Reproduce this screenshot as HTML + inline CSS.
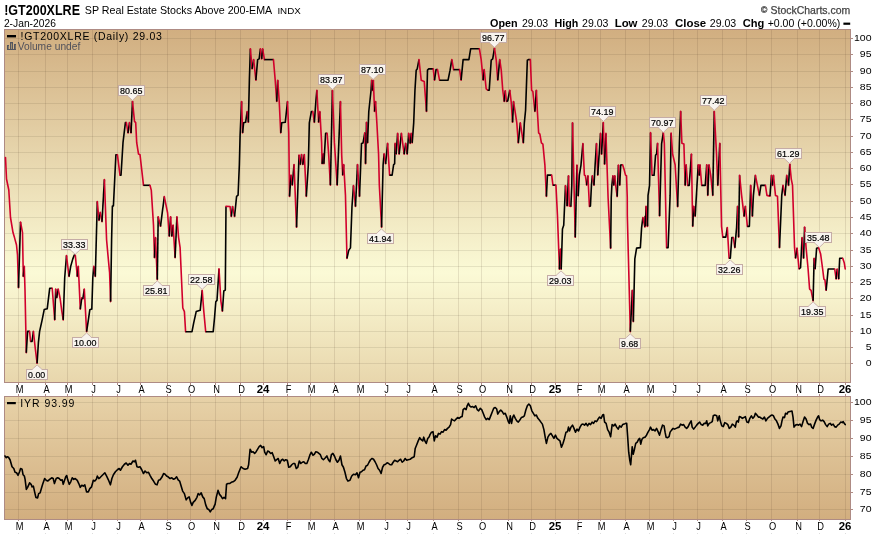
<!DOCTYPE html>
<html><head><meta charset="utf-8"><title>!GT200XLRE</title>
<style>html,body{margin:0;padding:0;background:#fff}body{width:877px;height:539px;overflow:hidden;font-family:"Liberation Sans",sans-serif}svg{display:block;will-change:transform;transform:translateZ(0)}text{font-family:"Liberation Sans",sans-serif}</style></head><body>
<svg width="877" height="539" viewBox="0 0 877 539">
<defs>
<linearGradient id="g1" x1="0" y1="0" x2="0" y2="1"><stop offset="0" stop-color="#d1ae80"/><stop offset="0.689" stop-color="#fbfad6"/><stop offset="1" stop-color="#e8d6ac"/></linearGradient>
<linearGradient id="g2" x1="0" y1="0" x2="0" y2="1"><stop offset="0" stop-color="#e7d2a8"/><stop offset="1" stop-color="#d2ae7f"/></linearGradient>
</defs>
<rect x="0" y="0" width="877" height="539" fill="#fff"/>
<rect x="4" y="29" width="847" height="354" fill="url(#g1)"/>
<rect x="4" y="396" width="847" height="124" fill="url(#g2)"/>
<path d="M5 363.5H850M5 347.5H850M5 331.5H850M5 315.5H850M5 298.5H850M5 282.5H850M5 266.5H850M5 250.5H850M5 233.5H850M5 217.5H850M5 201.5H850M5 184.5H850M5 168.5H850M5 152.5H850M5 136.5H850M5 119.5H850M5 103.5H850M5 87.5H850M5 71.5H850M5 54.5H850M5 38.5H850M5 509.5H850M5 492.5H850M5 474.5H850M5 456.5H850M5 438.5H850M5 420.5H850M5 402.5H850" stroke="#3a3020" stroke-opacity="0.105" stroke-width="1" fill="none" shape-rendering="crispEdges"/>
<path d="M18.5 30V382M18.5 397V519M45.5 30V382M45.5 397V519M67.5 30V382M67.5 397V519M92.5 30V382M92.5 397V519M117.5 30V382M117.5 397V519M140.5 30V382M140.5 397V519M167.5 30V382M167.5 397V519M190.5 30V382M190.5 397V519M215.5 30V382M215.5 397V519M240.5 30V382M240.5 397V519M263.5 30V382M263.5 397V519M287.5 30V382M287.5 397V519M310.5 30V382M310.5 397V519M334.5 30V382M334.5 397V519M359.5 30V382M359.5 397V519M385.5 30V382M385.5 397V519M407.5 30V382M407.5 397V519M433.5 30V382M433.5 397V519M458.5 30V382M458.5 397V519M481.5 30V382M481.5 397V519M508.5 30V382M508.5 397V519M531.5 30V382M531.5 397V519M555.5 30V382M555.5 397V519M578.5 30V382M578.5 397V519M600.5 30V382M600.5 397V519M625.5 30V382M625.5 397V519M649.5 30V382M649.5 397V519M673.5 30V382M673.5 397V519M697.5 30V382M697.5 397V519M722.5 30V382M722.5 397V519M746.5 30V382M746.5 397V519M771.5 30V382M771.5 397V519M797.5 30V382M797.5 397V519M819.5 30V382M819.5 397V519M845.5 30V382M845.5 397V519" stroke="#4a3024" stroke-opacity="0.12" stroke-width="1" fill="none" shape-rendering="crispEdges"/>
<path d="M18.5 383V385M18.5 394V396M18.5 520V521M45.5 383V385M45.5 394V396M45.5 520V521M67.5 383V385M67.5 394V396M67.5 520V521M92.5 383V385M92.5 394V396M92.5 520V521M117.5 383V385M117.5 394V396M117.5 520V521M140.5 383V385M140.5 394V396M140.5 520V521M167.5 383V385M167.5 394V396M167.5 520V521M190.5 383V385M190.5 394V396M190.5 520V521M215.5 383V385M215.5 394V396M215.5 520V521M240.5 383V385M240.5 394V396M240.5 520V521M263.5 383V385M263.5 394V396M263.5 520V521M287.5 383V385M287.5 394V396M287.5 520V521M310.5 383V385M310.5 394V396M310.5 520V521M334.5 383V385M334.5 394V396M334.5 520V521M359.5 383V385M359.5 394V396M359.5 520V521M385.5 383V385M385.5 394V396M385.5 520V521M407.5 383V385M407.5 394V396M407.5 520V521M433.5 383V385M433.5 394V396M433.5 520V521M458.5 383V385M458.5 394V396M458.5 520V521M481.5 383V385M481.5 394V396M481.5 520V521M508.5 383V385M508.5 394V396M508.5 520V521M531.5 383V385M531.5 394V396M531.5 520V521M555.5 383V385M555.5 394V396M555.5 520V521M578.5 383V385M578.5 394V396M578.5 520V521M600.5 383V385M600.5 394V396M600.5 520V521M625.5 383V385M625.5 394V396M625.5 520V521M649.5 383V385M649.5 394V396M649.5 520V521M673.5 383V385M673.5 394V396M673.5 520V521M697.5 383V385M697.5 394V396M697.5 520V521M722.5 383V385M722.5 394V396M722.5 520V521M746.5 383V385M746.5 394V396M746.5 520V521M771.5 383V385M771.5 394V396M771.5 520V521M797.5 383V385M797.5 394V396M797.5 520V521M819.5 383V385M819.5 394V396M819.5 520V521M845.5 383V385M845.5 394V396M845.5 520V521M851 363.5H853M851 347.5H853M851 331.5H853M851 315.5H853M851 298.5H853M851 282.5H853M851 266.5H853M851 250.5H853M851 233.5H853M851 217.5H853M851 201.5H853M851 184.5H853M851 168.5H853M851 152.5H853M851 136.5H853M851 119.5H853M851 103.5H853M851 87.5H853M851 71.5H853M851 54.5H853M851 38.5H853M851 509.5H853M851 492.5H853M851 474.5H853M851 456.5H853M851 438.5H853M851 420.5H853M851 402.5H853" stroke="#ae8b84" stroke-width="1" fill="none" shape-rendering="crispEdges"/>
<rect x="4.5" y="29.5" width="846" height="353" fill="none" stroke="#ae8b84" stroke-width="1" shape-rendering="crispEdges"/>
<rect x="4.5" y="396.5" width="846" height="123" fill="none" stroke="#ae8b84" stroke-width="1" shape-rendering="crispEdges"/>
<g fill="none" stroke-width="1.6" stroke-linejoin="round">
<path d="M5.5 157.5L6.5 179L8.8 190L10.5 217.5L13 232.6L14.5 237.6L16.5 245L17.5 255L18.5 287.8" stroke="#d1002c" stroke-linecap="round"/>
<path d="M18.5 287.8L20.5 222" stroke="#000" stroke-linecap="butt"/>
<path d="M20.5 222L22.5 232.6L23.3 276.5" stroke="#d1002c" stroke-linecap="round"/>
<path d="M23.3 276.5L24.3 266.4" stroke="#000" stroke-linecap="butt"/>
<path d="M24.3 266.4L25 290L26.3 352.7" stroke="#d1002c" stroke-linecap="round"/>
<path d="M26.3 352.7L27.6 331.4L29.6 331.4" stroke="#000" stroke-linecap="butt"/>
<path d="M29.6 331.4L30.6 341.4" stroke="#d1002c" stroke-linecap="round"/>
<path d="M30.6 341.4L32.1 341.4L33.4 331.4" stroke="#000" stroke-linecap="butt"/>
<path d="M33.4 331.4L35.1 347L37.1 363.3" stroke="#d1002c" stroke-linecap="round"/>
<path d="M37.1 363.3L38.4 342.7L39.6 331.4L42.1 320.1L44.2 309.6L47.2 308.8L49.7 288.3L52.2 288.3" stroke="#000" stroke-linecap="butt"/>
<path d="M52.2 288.3L54.7 319.9" stroke="#d1002c" stroke-linecap="round"/>
<path d="M54.7 319.9L55.7 289" stroke="#000" stroke-linecap="butt"/>
<path d="M55.7 289L56.7 297.8" stroke="#d1002c" stroke-linecap="round"/>
<path d="M56.7 297.8L58.2 289" stroke="#000" stroke-linecap="butt"/>
<path d="M58.2 289L60.2 299L61.7 310.3L63.2 319.9" stroke="#d1002c" stroke-linecap="round"/>
<path d="M63.2 319.9L64.7 277.7L66.5 255.6" stroke="#000" stroke-linecap="butt"/>
<path d="M66.5 255.6L69 276.5" stroke="#d1002c" stroke-linecap="round"/>
<path d="M69 276.5L70.7 266.4L72.8 258.9L74.3 255.1L75.3 255.1" stroke="#000" stroke-linecap="butt"/>
<path d="M75.3 255.1L77.3 276.5" stroke="#d1002c" stroke-linecap="round"/>
<path d="M77.3 276.5L78.3 266.4" stroke="#000" stroke-linecap="butt"/>
<path d="M78.3 266.4L80.3 309.1" stroke="#d1002c" stroke-linecap="round"/>
<path d="M80.3 309.1L81.8 297.8" stroke="#000" stroke-linecap="butt"/>
<path d="M81.8 297.8L82.8 299" stroke="#d1002c" stroke-linecap="round"/>
<path d="M82.8 299L84.3 289" stroke="#000" stroke-linecap="butt"/>
<path d="M84.3 289L86.6 331.7" stroke="#d1002c" stroke-linecap="round"/>
<path d="M86.6 331.7L88.3 320.4L89.8 309.8L91.8 309.1L92.8 277.7L93.8 266.4" stroke="#000" stroke-linecap="butt"/>
<path d="M93.8 266.4L95.3 276.5" stroke="#d1002c" stroke-linecap="round"/>
<path d="M95.3 276.5L97.3 201.6" stroke="#000" stroke-linecap="butt"/>
<path d="M97.3 201.6L99 220.4" stroke="#d1002c" stroke-linecap="round"/>
<path d="M99 220.4L100.3 212.4" stroke="#000" stroke-linecap="butt"/>
<path d="M100.3 212.4L102 221.7" stroke="#d1002c" stroke-linecap="round"/>
<path d="M102 221.7L104.4 179.6" stroke="#000" stroke-linecap="butt"/>
<path d="M104.4 179.6L106.6 240L108.4 260L109.6 272.7L110.6 301.6" stroke="#d1002c" stroke-linecap="round"/>
<path d="M110.6 301.6L111.6 240L112.4 206L113.4 206L115.9 154.7L117.4 154.7" stroke="#000" stroke-linecap="butt"/>
<path d="M117.4 154.7L120 175.3" stroke="#d1002c" stroke-linecap="round"/>
<path d="M120 175.3L121 175.3L123 142.7L125.4 122.6L126.4 122.6" stroke="#000" stroke-linecap="butt"/>
<path d="M126.4 122.6L128 133" stroke="#d1002c" stroke-linecap="round"/>
<path d="M128 133L129.5 122.6" stroke="#000" stroke-linecap="butt"/>
<path d="M129.5 122.6L131 133" stroke="#d1002c" stroke-linecap="round"/>
<path d="M131 133L132.5 101.3" stroke="#000" stroke-linecap="butt"/>
<path d="M132.5 101.3L134.5 121.4L135.7 122.6L136.7 142.7L138.5 154L140 154.7L143.5 185.3" stroke="#d1002c" stroke-linecap="round"/>
<path d="M143.5 185.3L150 185.3" stroke="#000" stroke-linecap="butt"/>
<path d="M150 185.3L151.3 190.4L153.5 225L154.5 257.7" stroke="#d1002c" stroke-linecap="round"/>
<path d="M154.5 257.7L155.5 237.6" stroke="#000" stroke-linecap="butt"/>
<path d="M155.5 237.6L157.3 279.6" stroke="#d1002c" stroke-linecap="round"/>
<path d="M157.3 279.6L158.2 216.7" stroke="#000" stroke-linecap="butt"/>
<path d="M158.2 216.7L160.5 226.3" stroke="#d1002c" stroke-linecap="round"/>
<path d="M160.5 226.3L164.3 196.6" stroke="#000" stroke-linecap="butt"/>
<path d="M164.3 196.6L167.6 213L169.3 236.3" stroke="#d1002c" stroke-linecap="round"/>
<path d="M169.3 236.3L170.6 216.7" stroke="#000" stroke-linecap="butt"/>
<path d="M170.6 216.7L171.8 236.3" stroke="#d1002c" stroke-linecap="round"/>
<path d="M171.8 236.3L173.1 225" stroke="#000" stroke-linecap="butt"/>
<path d="M173.1 225L175.1 257.7" stroke="#d1002c" stroke-linecap="round"/>
<path d="M175.1 257.7L176.9 216.7" stroke="#000" stroke-linecap="butt"/>
<path d="M176.9 216.7L178.6 237.6L180.1 247.6L182.8 308L184.4 311.6L185.6 331.7" stroke="#d1002c" stroke-linecap="round"/>
<path d="M185.6 331.7L192 331.7L193.7 322.9L196.2 311.6L200.2 310.3L202.2 290.3" stroke="#000" stroke-linecap="butt"/>
<path d="M202.2 290.3L203.7 310.3L205.7 331.7" stroke="#d1002c" stroke-linecap="round"/>
<path d="M205.7 331.7L213.2 331.7L214.5 318L215.8 301.7L217 300.4L219 268.9" stroke="#000" stroke-linecap="butt"/>
<path d="M219 268.9L220.9 301.1L222.4 311.2" stroke="#d1002c" stroke-linecap="round"/>
<path d="M222.4 311.2L223.8 291L225.3 290.1L226 206.4" stroke="#000" stroke-linecap="butt"/>
<path d="M226 206.4L230.05 206.45L231.31 216.48" stroke="#d1002c" stroke-linecap="round"/>
<path d="M231.31 216.48L232.56 206.45" stroke="#000" stroke-linecap="butt"/>
<path d="M232.56 206.45L234.57 216.48" stroke="#d1002c" stroke-linecap="round"/>
<path d="M234.57 216.48L236.58 196.41L238.08 195.16L239.34 165.05L240.09 135.37L241.59 101.5" stroke="#000" stroke-linecap="butt"/>
<path d="M241.59 101.5L242.6 132.86" stroke="#d1002c" stroke-linecap="round"/>
<path d="M242.6 132.86L243.6 122.82L245.61 122.32L247.11 111.54" stroke="#000" stroke-linecap="butt"/>
<path d="M247.11 111.54L248.37 122.32" stroke="#d1002c" stroke-linecap="round"/>
<path d="M248.37 122.32L249.37 80.18L250.37 48.82" stroke="#000" stroke-linecap="butt"/>
<path d="M250.37 48.82L252.13 68.89" stroke="#d1002c" stroke-linecap="round"/>
<path d="M252.13 68.89L253.64 59.6" stroke="#000" stroke-linecap="butt"/>
<path d="M253.64 59.6L255.89 80.18" stroke="#d1002c" stroke-linecap="round"/>
<path d="M255.89 80.18L257.65 59.6L259.15 58.85L260.41 48.82" stroke="#000" stroke-linecap="butt"/>
<path d="M260.41 48.82L261.66 58.85" stroke="#d1002c" stroke-linecap="round"/>
<path d="M261.66 58.85L262.67 48.82" stroke="#000" stroke-linecap="butt"/>
<path d="M262.67 48.82L264.42 59.6" stroke="#d1002c" stroke-linecap="round"/>
<path d="M264.42 59.6L273.45 59.6" stroke="#000" stroke-linecap="butt"/>
<path d="M273.45 59.6L275.21 80.18L276.72 101.5" stroke="#d1002c" stroke-linecap="round"/>
<path d="M276.72 101.5L277.72 80.18" stroke="#000" stroke-linecap="butt"/>
<path d="M277.72 80.18L279.22 101.5L280.73 132.86" stroke="#d1002c" stroke-linecap="round"/>
<path d="M280.73 132.86L281.73 122.82L285.25 122.32L287.5 101.5" stroke="#000" stroke-linecap="butt"/>
<path d="M287.5 101.5L288.76 132.86L289.51 196.41" stroke="#d1002c" stroke-linecap="round"/>
<path d="M289.51 196.41L291.02 175.09" stroke="#000" stroke-linecap="butt"/>
<path d="M291.02 175.09L292.27 185.12" stroke="#d1002c" stroke-linecap="round"/>
<path d="M292.27 185.12L294.03 164.55" stroke="#000" stroke-linecap="butt"/>
<path d="M294.03 164.55L296.54 227.27" stroke="#d1002c" stroke-linecap="round"/>
<path d="M296.54 227.27L299.04 155.02" stroke="#000" stroke-linecap="butt"/>
<path d="M299.04 155.02L300.3 164.55" stroke="#d1002c" stroke-linecap="round"/>
<path d="M300.3 164.55L301.55 154.52" stroke="#000" stroke-linecap="butt"/>
<path d="M301.55 154.52L302.81 164.55" stroke="#d1002c" stroke-linecap="round"/>
<path d="M302.81 164.55L304.31 154.52" stroke="#000" stroke-linecap="butt"/>
<path d="M304.31 154.52L306.32 196.41" stroke="#d1002c" stroke-linecap="round"/>
<path d="M306.32 196.41L308.33 165.05L309.33 122.82L311.34 111.54L312.84 111.54" stroke="#000" stroke-linecap="butt"/>
<path d="M312.84 111.54L314.35 122.32" stroke="#d1002c" stroke-linecap="round"/>
<path d="M314.35 122.32L315.85 101.5L316.86 90.21" stroke="#000" stroke-linecap="butt"/>
<path d="M316.86 90.21L318.61 122.32" stroke="#d1002c" stroke-linecap="round"/>
<path d="M318.61 122.32L319.87 111.54" stroke="#000" stroke-linecap="butt"/>
<path d="M319.87 111.54L321.62 142.9L322.12 163.8" stroke="#d1002c" stroke-linecap="round"/>
<path d="M322.12 163.8L323.13 153.76" stroke="#000" stroke-linecap="butt"/>
<path d="M323.13 153.76L323.88 163.8" stroke="#d1002c" stroke-linecap="round"/>
<path d="M323.88 163.8L325.64 133.36L327.14 133.36" stroke="#000" stroke-linecap="butt"/>
<path d="M327.14 133.36L328.65 154.18L330.4 185.12" stroke="#d1002c" stroke-linecap="round"/>
<path d="M330.4 185.12L332.41 90.21" stroke="#000" stroke-linecap="butt"/>
<path d="M332.41 90.21L334.42 142.9L337.18 185.12" stroke="#d1002c" stroke-linecap="round"/>
<path d="M337.18 185.12L340.44 101.5" stroke="#000" stroke-linecap="butt"/>
<path d="M340.44 101.5L341.69 155.02L342.7 175.09" stroke="#d1002c" stroke-linecap="round"/>
<path d="M342.7 175.09L343.7 164.55" stroke="#000" stroke-linecap="butt"/>
<path d="M343.7 164.55L345.46 195.16L346.96 258.38" stroke="#d1002c" stroke-linecap="round"/>
<path d="M346.96 258.38L348.72 250.35L350.47 247.84L351.98 206.45L353.48 185.62" stroke="#000" stroke-linecap="butt"/>
<path d="M353.48 185.62L355.49 206.45" stroke="#d1002c" stroke-linecap="round"/>
<path d="M355.49 206.45L357.5 164.55" stroke="#000" stroke-linecap="butt"/>
<path d="M357.5 164.55L359.51 196.41" stroke="#d1002c" stroke-linecap="round"/>
<path d="M359.51 196.41L361.51 143.4L363.02 142.9L364.77 132.86" stroke="#000" stroke-linecap="butt"/>
<path d="M364.77 132.86L365.53 163.72" stroke="#d1002c" stroke-linecap="round"/>
<path d="M365.53 163.72L366.53 122.32" stroke="#000" stroke-linecap="butt"/>
<path d="M366.53 122.32L367.53 142.9" stroke="#d1002c" stroke-linecap="round"/>
<path d="M367.53 142.9L368.79 111.54L371.05 90.21L371.67 80.18" stroke="#000" stroke-linecap="butt"/>
<path d="M371.67 80.18L372.55 90.46" stroke="#d1002c" stroke-linecap="round"/>
<path d="M372.55 90.46L373.35 80.18" stroke="#000" stroke-linecap="butt"/>
<path d="M373.35 80.18L374.56 111.54" stroke="#d1002c" stroke-linecap="round"/>
<path d="M374.56 111.54L375.56 101.5" stroke="#000" stroke-linecap="butt"/>
<path d="M375.56 101.5L376.82 122.32L378.57 154.18L379.33 185.12L381.58 227.27" stroke="#d1002c" stroke-linecap="round"/>
<path d="M381.58 227.27L383.09 165.05L384.09 153.76" stroke="#000" stroke-linecap="butt"/>
<path d="M384.09 153.76L385.6 163.8" stroke="#d1002c" stroke-linecap="round"/>
<path d="M385.6 163.8L387.6 143.4" stroke="#000" stroke-linecap="butt"/>
<path d="M387.6 143.4L389.61 175.09" stroke="#d1002c" stroke-linecap="round"/>
<path d="M389.61 175.09L392.12 175.09L393.63 164.55L394.63 163.8L395.13 143.4" stroke="#000" stroke-linecap="butt"/>
<path d="M395.13 143.4L396.13 154.18" stroke="#d1002c" stroke-linecap="round"/>
<path d="M396.13 154.18L397.64 133.36" stroke="#000" stroke-linecap="butt"/>
<path d="M397.64 133.36L399.14 154.18" stroke="#d1002c" stroke-linecap="round"/>
<path d="M399.14 154.18L401.4 133.36" stroke="#000" stroke-linecap="butt"/>
<path d="M401.4 133.36L404.16 154.18" stroke="#d1002c" stroke-linecap="round"/>
<path d="M404.16 154.18L405.67 143.4" stroke="#000" stroke-linecap="butt"/>
<path d="M405.67 143.4L407.17 154.18" stroke="#d1002c" stroke-linecap="round"/>
<path d="M407.17 154.18L408.68 133.36" stroke="#000" stroke-linecap="butt"/>
<path d="M408.68 133.36L410.18 143.4" stroke="#d1002c" stroke-linecap="round"/>
<path d="M410.18 143.4L411.19 133.36" stroke="#000" stroke-linecap="butt"/>
<path d="M411.19 133.36L412.19 142.9" stroke="#d1002c" stroke-linecap="round"/>
<path d="M412.19 142.9L413.7 122.82L414.95 90.21L416.2 70.14L417.21 68.89L418.96 59.6" stroke="#000" stroke-linecap="butt"/>
<path d="M418.96 59.6L421.22 80.18L424.23 81.43L426.49 111.54" stroke="#d1002c" stroke-linecap="round"/>
<path d="M426.49 111.54L427.49 70.14L428.75 68.89L433.26 68.89" stroke="#000" stroke-linecap="butt"/>
<path d="M433.26 68.89L434.52 80.18" stroke="#d1002c" stroke-linecap="round"/>
<path d="M434.52 80.18L436.02 69.64L437.53 69.64" stroke="#000" stroke-linecap="butt"/>
<path d="M437.53 69.64L439.53 80.18" stroke="#d1002c" stroke-linecap="round"/>
<path d="M439.53 80.18L448.06 80.18L450.07 70.14L451.83 59.6" stroke="#000" stroke-linecap="butt"/>
<path d="M451.83 59.6L453.58 69.64" stroke="#d1002c" stroke-linecap="round"/>
<path d="M453.58 69.64L459.6 69.64" stroke="#000" stroke-linecap="butt"/>
<path d="M459.6 69.64L461.11 80.18" stroke="#d1002c" stroke-linecap="round"/>
<path d="M461.11 80.18L463.12 59.6L468.89 59.6L470.64 48.82L479.42 48.82" stroke="#000" stroke-linecap="butt"/>
<path d="M479.42 48.82L481.18 59.6L483.19 80.18" stroke="#d1002c" stroke-linecap="round"/>
<path d="M483.19 80.18L484.19 69.64" stroke="#000" stroke-linecap="butt"/>
<path d="M484.19 69.64L486.2 88.96L487.7 90.21" stroke="#d1002c" stroke-linecap="round"/>
<path d="M487.7 90.21L489.21 90.21L491.21 60.11L492.72 58.85L494.48 48.06" stroke="#000" stroke-linecap="butt"/>
<path d="M494.48 48.06L496.23 60.11L497.74 80.18" stroke="#d1002c" stroke-linecap="round"/>
<path d="M497.74 80.18L499.74 59.6" stroke="#000" stroke-linecap="butt"/>
<path d="M499.74 59.6L501.25 70.14L502.75 90.21L504.26 101.5" stroke="#d1002c" stroke-linecap="round"/>
<path d="M504.26 101.5L505.26 90.71" stroke="#000" stroke-linecap="butt"/>
<path d="M505.26 90.71L506.52 101.5" stroke="#d1002c" stroke-linecap="round"/>
<path d="M506.52 101.5L507.77 100.75L509.78 90.21" stroke="#000" stroke-linecap="butt"/>
<path d="M509.78 90.21L511.28 102.75L512.54 122.32" stroke="#d1002c" stroke-linecap="round"/>
<path d="M512.54 122.32L513.54 101.5" stroke="#000" stroke-linecap="butt"/>
<path d="M513.54 101.5L515.3 112.79L516.8 122.82L518.31 142.9" stroke="#d1002c" stroke-linecap="round"/>
<path d="M518.31 142.9L520.32 122.82" stroke="#000" stroke-linecap="butt"/>
<path d="M520.32 122.82L523.33 142.9" stroke="#d1002c" stroke-linecap="round"/>
<path d="M523.33 142.9L524.33 122.82L525.58 110.28L527.34 60.11L528.34 59.6L530.35 59.6" stroke="#000" stroke-linecap="butt"/>
<path d="M530.35 59.6L531.61 90.21L532.86 91.47L534.87 111.54" stroke="#d1002c" stroke-linecap="round"/>
<path d="M534.87 111.54L536.37 90.21" stroke="#000" stroke-linecap="butt"/>
<path d="M536.37 90.21L537.38 111.54L538.63 132.86L539.88 134.11L541.39 142.9L542.9 144.15L544.9 165.05L546.41 196.41" stroke="#d1002c" stroke-linecap="round"/>
<path d="M546.41 196.41L547.41 175.09L551.68 175.09" stroke="#000" stroke-linecap="butt"/>
<path d="M551.68 175.09L552.93 185.12" stroke="#d1002c" stroke-linecap="round"/>
<path d="M552.93 185.12L555.94 185.12" stroke="#000" stroke-linecap="butt"/>
<path d="M555.94 185.12L557.45 215.23L559.45 269.17" stroke="#d1002c" stroke-linecap="round"/>
<path d="M559.45 269.17L560.46 249.1" stroke="#000" stroke-linecap="butt"/>
<path d="M560.46 249.1L561.21 269.17" stroke="#d1002c" stroke-linecap="round"/>
<path d="M561.21 269.17L562.46 229.03L563.72 225.26L565.47 185.62" stroke="#000" stroke-linecap="butt"/>
<path d="M565.47 185.62L565.6 185.85L567.11 206.03" stroke="#d1002c" stroke-linecap="round"/>
<path d="M567.11 206.03L568.5 175.76" stroke="#000" stroke-linecap="butt"/>
<path d="M568.5 175.76L569.26 206.03L570.9 206.41" stroke="#d1002c" stroke-linecap="round"/>
<path d="M570.9 206.41L571.78 185.22L572.53 122.7" stroke="#000" stroke-linecap="butt"/>
<path d="M572.53 122.7L575.26 237.31" stroke="#d1002c" stroke-linecap="round"/>
<path d="M575.26 237.31L576.95 165.04" stroke="#000" stroke-linecap="butt"/>
<path d="M576.95 165.04L578.21 195.94" stroke="#d1002c" stroke-linecap="round"/>
<path d="M578.21 195.94L579.34 175.13L580.98 165.04L582.88 143.51" stroke="#000" stroke-linecap="butt"/>
<path d="M582.88 143.51L584.39 175.13L585.4 175.76L586.66 185.22" stroke="#d1002c" stroke-linecap="round"/>
<path d="M586.66 185.22L587.92 175.76" stroke="#000" stroke-linecap="butt"/>
<path d="M587.92 175.76L589.43 206.41" stroke="#d1002c" stroke-linecap="round"/>
<path d="M589.43 206.41L590.44 206.03L591.45 185.22L592.33 175.76" stroke="#000" stroke-linecap="butt"/>
<path d="M592.33 175.76L593.97 185.22" stroke="#d1002c" stroke-linecap="round"/>
<path d="M593.97 185.22L595.11 165.04L596.49 143.51" stroke="#000" stroke-linecap="butt"/>
<path d="M596.49 143.51L597.76 175.13" stroke="#d1002c" stroke-linecap="round"/>
<path d="M597.76 175.13L600.53 133.42" stroke="#000" stroke-linecap="butt"/>
<path d="M600.53 133.42L601.54 154.22" stroke="#d1002c" stroke-linecap="round"/>
<path d="M601.54 154.22L603.3 122.45" stroke="#000" stroke-linecap="butt"/>
<path d="M603.3 122.45L604.56 164.31" stroke="#d1002c" stroke-linecap="round"/>
<path d="M604.56 164.31L605.95 133.42" stroke="#000" stroke-linecap="butt"/>
<path d="M605.95 133.42L608.1 197.83L610.63 248.34" stroke="#d1002c" stroke-linecap="round"/>
<path d="M610.63 248.34L611.25 197.83L611.88 185.22L612.89 175.76" stroke="#000" stroke-linecap="butt"/>
<path d="M612.89 175.76L613.77 185.22" stroke="#d1002c" stroke-linecap="round"/>
<path d="M613.77 185.22L614.78 175.76" stroke="#000" stroke-linecap="butt"/>
<path d="M614.78 175.76L615.66 185.22L617.18 196.57" stroke="#d1002c" stroke-linecap="round"/>
<path d="M617.18 196.57L618.44 165.04" stroke="#000" stroke-linecap="butt"/>
<path d="M618.44 165.04L619.7 185.22" stroke="#d1002c" stroke-linecap="round"/>
<path d="M619.7 185.22L620.71 165.04L622.6 164.79" stroke="#000" stroke-linecap="butt"/>
<path d="M622.6 164.79L624.24 170.09L625.5 175.13L626.51 175.76L627.26 197.83L627.31 215.0L630.32 331.66" stroke="#d1002c" stroke-linecap="round"/>
<path d="M630.32 331.66L632.32 290.26" stroke="#000" stroke-linecap="butt"/>
<path d="M632.32 290.26L633.33 321.62" stroke="#d1002c" stroke-linecap="round"/>
<path d="M633.33 321.62L634.83 258.9L636.59 248.12L640.35 247.61L641.61 227.54L642.86 217.51" stroke="#000" stroke-linecap="butt"/>
<path d="M642.86 217.51L644.87 227.04" stroke="#d1002c" stroke-linecap="round"/>
<path d="M644.87 227.04L645.17 216.31" stroke="#000" stroke-linecap="butt"/>
<path d="M645.17 216.31L645.47 226.34" stroke="#d1002c" stroke-linecap="round"/>
<path d="M645.47 226.34L646.02 206.27" stroke="#000" stroke-linecap="butt"/>
<path d="M646.02 206.27L647.53 226.34" stroke="#d1002c" stroke-linecap="round"/>
<path d="M647.53 226.34L648.03 195.39L649.53 185.35L650.54 132.67" stroke="#000" stroke-linecap="butt"/>
<path d="M650.54 132.67L652.04 175.32" stroke="#d1002c" stroke-linecap="round"/>
<path d="M652.04 175.32L654.05 175.32L655.55 155.25L656.56 153.99L657.56 143.2" stroke="#000" stroke-linecap="butt"/>
<path d="M657.56 143.2L659.57 215.96" stroke="#d1002c" stroke-linecap="round"/>
<path d="M659.57 215.96L661.58 143.96L663.33 132.67" stroke="#000" stroke-linecap="butt"/>
<path d="M663.33 132.67L664.34 143.2L666.59 247.67" stroke="#d1002c" stroke-linecap="round"/>
<path d="M666.59 247.67L668.1 247.67L670.11 195.39L671.11 133.17" stroke="#000" stroke-linecap="butt"/>
<path d="M671.11 133.17L672.61 153.99L675.12 164.78L677.63 206.68" stroke="#d1002c" stroke-linecap="round"/>
<path d="M677.63 206.68L679.39 143.2L680.64 111.34" stroke="#000" stroke-linecap="butt"/>
<path d="M680.64 111.34L681.9 143.2L683.9 143.96L685.16 185.35" stroke="#d1002c" stroke-linecap="round"/>
<path d="M685.16 185.35L686.16 164.78" stroke="#000" stroke-linecap="butt"/>
<path d="M686.16 164.78L687.67 185.35" stroke="#d1002c" stroke-linecap="round"/>
<path d="M687.67 185.35L689.17 185.35L691.43 153.99" stroke="#000" stroke-linecap="butt"/>
<path d="M691.43 153.99L692.68 226.34" stroke="#d1002c" stroke-linecap="round"/>
<path d="M692.68 226.34L693.69 206.27" stroke="#000" stroke-linecap="butt"/>
<path d="M693.69 206.27L695.19 216.31" stroke="#d1002c" stroke-linecap="round"/>
<path d="M695.19 216.31L698.2 164.78" stroke="#000" stroke-linecap="butt"/>
<path d="M698.2 164.78L699.21 175.32" stroke="#d1002c" stroke-linecap="round"/>
<path d="M699.21 175.32L699.96 164.78" stroke="#000" stroke-linecap="butt"/>
<path d="M699.96 164.78L701.72 185.35" stroke="#d1002c" stroke-linecap="round"/>
<path d="M701.72 185.35L705.23 185.35L706.73 164.78" stroke="#000" stroke-linecap="butt"/>
<path d="M706.73 164.78L707.74 195.39" stroke="#d1002c" stroke-linecap="round"/>
<path d="M707.74 195.39L708.99 164.78" stroke="#000" stroke-linecap="butt"/>
<path d="M708.99 164.78L710.75 175.32L712.75 195.39" stroke="#d1002c" stroke-linecap="round"/>
<path d="M712.75 195.39L714.26 111.34" stroke="#000" stroke-linecap="butt"/>
<path d="M714.26 111.34L716.52 153.99L717.77 185.35" stroke="#d1002c" stroke-linecap="round"/>
<path d="M717.77 185.35L719.78 143.2" stroke="#000" stroke-linecap="butt"/>
<path d="M719.78 143.2L721.54 226.34L722.79 237.13" stroke="#d1002c" stroke-linecap="round"/>
<path d="M722.79 237.13L725.8 237.13L727.31 227.6" stroke="#000" stroke-linecap="butt"/>
<path d="M727.31 227.6L729.06 258.2" stroke="#d1002c" stroke-linecap="round"/>
<path d="M729.06 258.2L730.32 258.2L731.82 237.63L733.33 237.63" stroke="#000" stroke-linecap="butt"/>
<path d="M733.33 237.63L734.83 247.67" stroke="#d1002c" stroke-linecap="round"/>
<path d="M734.83 247.67L736.59 227.6L737.59 206.27" stroke="#000" stroke-linecap="butt"/>
<path d="M737.59 206.27L738.6 237.13" stroke="#d1002c" stroke-linecap="round"/>
<path d="M738.6 237.13L739.6 175.32" stroke="#000" stroke-linecap="butt"/>
<path d="M739.6 175.32L741.61 195.39L744.11 216.31" stroke="#d1002c" stroke-linecap="round"/>
<path d="M744.11 216.31L745.37 206.27" stroke="#000" stroke-linecap="butt"/>
<path d="M745.37 206.27L747.38 226.34" stroke="#d1002c" stroke-linecap="round"/>
<path d="M747.38 226.34L749.38 226.34L750.64 185.35" stroke="#000" stroke-linecap="butt"/>
<path d="M750.64 185.35L752.39 216.31" stroke="#d1002c" stroke-linecap="round"/>
<path d="M752.39 216.31L753.4 195.39L755.4 175.32" stroke="#000" stroke-linecap="butt"/>
<path d="M755.4 175.32L757.41 185.35L759.42 195.39" stroke="#d1002c" stroke-linecap="round"/>
<path d="M759.42 195.39L760.92 185.35L765.44 185.35" stroke="#000" stroke-linecap="butt"/>
<path d="M765.44 185.35L766.94 195.39L769.95 196.14" stroke="#d1002c" stroke-linecap="round"/>
<path d="M769.95 196.14L771.46 175.32" stroke="#000" stroke-linecap="butt"/>
<path d="M771.46 175.32L772.46 185.35" stroke="#d1002c" stroke-linecap="round"/>
<path d="M772.46 185.35L773.47 175.32" stroke="#000" stroke-linecap="butt"/>
<path d="M773.47 175.32L775.47 195.39L777.48 196.14L779.49 247.67" stroke="#d1002c" stroke-linecap="round"/>
<path d="M779.49 247.67L781.75 195.39L783.0 185.35" stroke="#000" stroke-linecap="butt"/>
<path d="M783.0 185.35L785.01 195.39" stroke="#d1002c" stroke-linecap="round"/>
<path d="M785.01 195.39L786.76 175.32" stroke="#000" stroke-linecap="butt"/>
<path d="M786.76 175.32L788.52 185.35" stroke="#d1002c" stroke-linecap="round"/>
<path d="M788.52 185.35L789.77 164.03" stroke="#000" stroke-linecap="butt"/>
<path d="M789.77 164.03L791.28 179.08L792.53 185.35L794.54 247.67L795.54 258.2" stroke="#d1002c" stroke-linecap="round"/>
<path d="M795.54 258.2L797.05 248.17" stroke="#000" stroke-linecap="butt"/>
<path d="M797.05 248.17L799.06 268.99" stroke="#d1002c" stroke-linecap="round"/>
<path d="M799.06 268.99L800.56 267.74L802.07 237.63" stroke="#000" stroke-linecap="butt"/>
<path d="M802.07 237.63L803.57 258.2" stroke="#d1002c" stroke-linecap="round"/>
<path d="M803.57 258.2L804.58 227.09" stroke="#000" stroke-linecap="butt"/>
<path d="M804.58 227.09L806.08 247.67L808.09 268.99L809.59 289.06L811.1 290.32L813.11 300.85" stroke="#d1002c" stroke-linecap="round"/>
<path d="M813.11 300.85L814.11 258.2" stroke="#000" stroke-linecap="butt"/>
<path d="M814.11 258.2L815.11 268.99" stroke="#d1002c" stroke-linecap="round"/>
<path d="M815.11 268.99L816.62 248.17L818.63 247.67" stroke="#000" stroke-linecap="butt"/>
<path d="M818.63 247.67L820.63 253.94L822.64 268.99L823.89 279.03L824.9 279.78L826.15 290.32" stroke="#d1002c" stroke-linecap="round"/>
<path d="M826.15 290.32L827.16 279.78L828.16 268.99L834.68 268.99" stroke="#000" stroke-linecap="butt"/>
<path d="M834.68 268.99L836.19 279.03" stroke="#d1002c" stroke-linecap="round"/>
<path d="M836.19 279.03L837.19 268.99" stroke="#000" stroke-linecap="butt"/>
<path d="M837.19 268.99L838.7 279.03" stroke="#d1002c" stroke-linecap="round"/>
<path d="M838.7 279.03L839.7 258.2L842.71 258.2" stroke="#000" stroke-linecap="butt"/>
<path d="M842.71 258.2L844.21 262.72L845.22 268.99" stroke="#d1002c" stroke-linecap="round"/>
</g>
<polyline points="5.02,455.97 6.27,457.73 7.53,456.73 8.78,457.73 10.04,459.74 12.04,466.76 13.8,468.52 15.05,472.28 16.56,472.78 18.06,475.29 19.57,471.78 20.57,468.52 22.08,469.27 23.08,474.79 24.34,476.04 25.09,479.31 26.34,489.34 27.6,487.33 29.6,482.82 31.11,484.32 32.11,486.83 33.37,486.08 34.62,491.85 35.88,497.37 37.63,497.87 38.64,493.61 40.14,492.85 41.39,488.59 42.65,484.32 44.66,478.55 46.16,480.31 47.67,481.06 49.67,479.31 51.68,477.8 53.19,478.55 54.44,483.57 56.2,478.55 57.7,477.8 59.21,478.55 60.71,480.31 62.22,479.81 63.22,484.32 64.73,479.81 65.73,476.8 66.73,475.54 67.74,479.81 69.24,484.32 70.75,481.81 72.25,477.8 73.76,479.31 75.26,478.55 77.27,480.31 78.78,483.57 80.28,487.33 81.79,485.33 83.29,486.08 84.8,484.82 86.55,491.85 88.31,491.85 89.81,488.59 91.57,486.83 93.33,480.31 94.83,481.06 96.34,479.31 97.34,476.04 98.85,478.55 100.35,477.3 102.36,475.29 104.87,472.78 106.62,476.04 108.38,479.81 110.39,484.82 111.89,478.55 113.4,474.79 115.4,471.78 117.41,469.77 119.17,468.52 120.42,470.27 122.43,466.76 124.44,464.25 126.19,463.0 127.95,465.26 129.45,463.5 130.96,464.25 132.97,460.99 134.47,461.74 135.47,460.24 136.98,466.76 138.48,467.26 139.99,466.76 141.75,469.77 143.5,473.54 145.01,471.03 146.76,472.78 148.52,472.28 150.03,475.29 151.78,478.55 153.54,481.06 155.54,484.32 157.05,484.82 158.55,480.31 160.06,479.81 161.82,477.3 163.57,473.54 165.08,474.29 166.58,476.04 168.09,476.8 170.1,478.55 171.85,477.8 173.61,479.31 175.11,478.55 176.62,476.8 178.12,479.81 179.63,481.06 181.13,486.08 182.64,491.1 184.4,493.61 186.15,499.88 187.66,497.87 189.16,496.87 190.67,502.39 191.92,505.4 193.18,502.39 195.18,500.38 196.94,497.37 198.19,493.61 199.7,494.86 201.2,492.85 202.71,496.87 204.21,498.62 205.72,504.9 207.23,508.66 208.73,509.41 210.24,511.92 211.74,509.41 213.25,508.66 214.75,504.9 215.0,504.9 216.25,497.37 218.01,490.34 219.52,494.36 221.02,496.11 222.53,498.62 224.03,497.37 225.54,498.62 226.54,484.32 228.05,483.57 229.55,483.57 231.31,482.32 233.06,481.81 235.07,480.31 237.08,477.3 238.83,472.28 241.09,466.76 243.1,468.52 245.11,469.27 247.61,468.52 248.62,464.75 250.12,449.2 251.63,452.21 253.13,451.71 254.64,453.47 256.14,451.71 257.65,449.2 259.15,446.69 260.66,445.44 262.17,447.69 263.67,446.69 264.67,452.21 266.18,454.72 267.68,450.96 269.19,451.71 270.69,453.47 272.2,452.71 273.71,456.73 275.21,460.99 276.72,459.74 278.22,458.48 279.73,463.5 281.23,460.24 282.74,459.24 284.24,460.99 285.75,459.74 287.25,460.24 288.76,467.26 290.26,466.76 291.77,464.75 293.27,463.5 294.78,463.5 296.28,468.52 297.79,467.26 299.3,460.99 300.8,463.5 302.31,462.25 303.81,461.74 305.32,463.5 306.82,463.5 308.33,459.74 309.83,455.22 311.34,452.21 312.84,455.22 314.35,454.22 315.85,451.71 317.36,452.21 318.86,453.47 320.37,454.72 321.87,458.48 323.38,459.74 325.39,457.73 326.89,455.97 328.4,459.74 329.9,461.74 331.41,454.72 332.91,453.47 334.42,455.97 335.92,459.74 337.43,462.25 338.93,460.24 340.44,455.97 341.94,464.75 343.45,467.26 344.95,472.28 346.46,478.55 347.97,481.06 349.97,480.31 351.73,476.04 353.48,474.29 355.49,474.79 357.0,472.78 358.5,477.8 360.01,472.28 361.51,471.78 363.02,470.27 364.52,469.77 366.03,466.01 367.53,465.26 369.04,462.25 370.54,459.74 372.05,458.48 373.55,459.24 375.06,461.74 376.57,464.75 378.07,468.52 379.58,470.27 381.08,473.54 382.59,467.26 384.09,464.75 385.6,464.25 387.1,462.75 388.61,463.5 390.11,464.75 391.62,464.75 393.12,462.25 394.63,460.24 396.13,460.99 397.64,461.74 399.14,460.24 400.65,459.24 402.16,462.25 403.66,460.99 405.17,458.48 406.67,460.24 408.18,459.74 410.18,459.24 412.19,457.73 414.2,456.73 415.2,448.45 416.71,444.68 418.21,440.92 419.72,437.66 421.22,439.67 422.73,440.92 423.73,437.16 425.24,441.67 426.24,443.43 427.74,438.41 429.25,436.66 430.0,434.65 431.51,432.14 433.01,431.64 434.26,440.92 435.52,435.9 437.02,437.16 438.53,433.39 440.04,434.15 441.54,431.64 443.05,432.14 444.55,429.63 446.06,430.13 447.56,428.38 449.07,427.12 450.57,424.61 451.58,419.09 453.08,420.1 454.59,420.85 456.09,419.09 457.6,417.59 459.1,418.34 460.61,417.09 462.11,416.59 463.12,409.56 464.62,408.31 466.13,409.56 467.13,405.8 468.38,403.29 469.64,405.8 471.14,407.05 472.65,406.55 474.15,407.55 475.66,405.8 477.17,409.56 478.67,410.82 480.18,408.31 481.68,409.56 483.19,413.32 484.69,417.09 486.2,419.6 487.7,418.34 489.21,419.6 490.71,415.83 492.22,412.07 493.72,408.31 495.23,407.55 496.73,409.06 497.74,414.08 499.24,411.57 500.75,410.06 502.25,411.57 503.76,414.08 505.26,413.32 506.77,417.09 508.27,421.6 509.28,423.36 510.28,415.83 511.54,423.36 512.79,417.09 513.79,415.08 515.3,418.34 516.8,420.85 518.31,422.11 519.81,420.1 521.32,417.59 522.82,417.09 524.33,415.83 525.84,410.06 527.34,405.8 528.85,404.04 530.35,405.8 531.86,410.82 533.36,413.32 534.87,415.83 536.37,415.08 537.88,418.34 539.38,420.1 540.89,422.11 542.39,424.11 543.9,429.63 545.4,438.41 546.41,443.43 547.91,437.16 549.42,434.65 550.92,433.39 552.43,435.9 553.93,438.41 555.44,435.15 556.94,438.41 558.45,439.67 559.95,440.92 561.46,447.19 562.97,443.43 564.47,438.41 565.98,432.14 567.48,431.64 568.48,427.12 569.49,430.89 570.99,427.12 572.5,425.12 574.0,428.38 575.51,432.14 577.01,429.13 578.52,430.89 580.03,427.12 581.53,424.61 583.04,424.11 584.54,425.12 586.05,423.36 587.55,425.87 589.06,423.36 590.56,424.61 592.07,422.11 593.57,423.36 595.08,420.85 596.58,421.6 598.09,419.09 599.59,417.09 601.1,418.34 602.6,415.08 603.61,414.58 604.61,422.11 606.12,423.36 607.62,429.63 609.13,432.14 610.63,436.66 612.14,424.61 613.64,425.87 615.15,424.11 616.65,427.12 618.16,429.13 619.66,425.87 621.17,427.12 622.67,424.61 624.18,424.11 625.68,423.36 626.69,423.36 627.69,437.16 628.7,452.21 629.7,459.74 630.7,464.75 632.21,446.69 633.21,454.22 634.47,449.2 635.72,443.43 637.23,442.18 638.73,439.17 639.73,438.41 640.74,444.18 641.99,439.17 643.25,437.66 644.75,437.16 645.0,437.16 646.51,435.15 648.01,432.14 649.52,429.63 650.52,427.12 652.02,430.13 653.53,429.63 655.04,430.89 656.54,428.38 658.05,431.64 659.55,435.15 661.06,429.63 662.56,425.12 664.07,425.87 665.07,432.14 666.07,437.16 667.58,437.66 669.08,436.66 670.09,432.14 671.59,430.13 673.1,428.38 674.6,429.13 676.11,428.38 677.61,427.62 679.12,427.12 680.62,424.11 682.13,425.12 683.64,424.61 685.14,427.12 686.65,428.38 688.15,426.62 689.66,423.36 691.16,420.85 692.17,427.12 693.67,429.13 695.18,427.12 696.68,425.12 698.19,423.36 699.69,422.11 701.2,424.61 702.7,425.12 704.21,423.36 705.71,423.36 706.72,420.85 707.72,425.87 709.22,423.36 710.73,422.61 712.24,421.6 713.24,415.83 714.74,415.08 716.75,415.83 717.75,420.85 719.26,415.83 720.26,420.85 721.77,425.87 723.27,426.62 724.78,422.61 726.28,423.36 727.79,424.61 729.3,428.38 730.8,427.12 732.31,424.11 733.81,425.12 735.32,427.12 736.32,422.11 737.32,420.85 738.33,422.11 739.33,416.59 740.84,417.09 742.34,418.34 743.85,417.59 745.35,416.59 746.86,422.11 748.36,422.61 749.87,418.34 751.37,415.83 752.88,418.34 754.38,416.59 755.39,413.32 756.89,415.08 758.4,417.09 759.9,417.09 761.41,418.34 762.91,419.09 764.42,417.09 765.92,420.85 767.43,418.34 768.93,417.09 770.44,415.83 771.94,415.08 773.45,415.83 774.95,419.09 776.46,420.85 777.97,424.11 779.47,428.38 780.98,425.87 781.98,420.85 782.98,417.09 784.49,417.59 785.49,413.32 787.0,414.08 788.0,412.07 790.01,411.57 792.01,411.07 793.02,417.09 794.02,427.12 795.53,425.12 797.03,424.61 798.54,425.12 800.04,424.11 801.55,426.62 803.05,421.6 804.56,417.09 806.06,419.09 807.57,423.36 809.07,424.61 810.58,424.11 811.58,427.12 813.09,428.38 814.59,424.11 816.1,420.1 817.6,417.09 818.61,415.83 819.61,419.6 821.12,420.85 822.62,420.1 824.13,421.6 825.63,424.61 827.14,426.62 828.64,424.11 830.15,423.36 831.65,425.12 833.16,424.11 834.66,426.62 836.17,427.12 837.67,425.12 839.18,424.11 840.68,422.11 842.19,422.61 843.19,421.6 844.2,423.36 845.2,424.61" stroke="#000" stroke-width="1.6" fill="none" stroke-linejoin="round" stroke-linecap="round"/>
<rect x="118.5" y="85.5" width="26" height="10" fill="#f8f4ee" stroke="#c5aca6" stroke-width="1"/>
<path d="M127.2 95.5L132.4 100.4L137.6 95.5" fill="#f8f4ee" stroke="#c5aca6" stroke-width="0.9" stroke-linejoin="miter"/>
<path d="M128.1 95.5H136.70000000000002" stroke="#f8f4ee" stroke-width="1.3"/>
<text x="131.2" y="94.0" font-size="9.5" text-anchor="middle" textLength="22.4" lengthAdjust="spacingAndGlyphs" fill="#000" stroke="#000" stroke-width="0.2">80.65</text>
<rect x="61.5" y="239.5" width="26" height="10" fill="#f8f4ee" stroke="#c5aca6" stroke-width="1"/>
<path d="M70.0 249.5L75.2 254.4L80.4 249.5" fill="#f8f4ee" stroke="#c5aca6" stroke-width="0.9" stroke-linejoin="miter"/>
<path d="M70.9 249.5H79.5" stroke="#f8f4ee" stroke-width="1.3"/>
<text x="74.2" y="248.0" font-size="9.5" text-anchor="middle" textLength="22.4" lengthAdjust="spacingAndGlyphs" fill="#000" stroke="#000" stroke-width="0.2">33.33</text>
<rect x="72.5" y="337.5" width="26" height="10" fill="#f8f4ee" stroke="#c5aca6" stroke-width="1"/>
<path d="M81.6 337.5L86.6 332.9L91.6 337.5" fill="#f8f4ee" stroke="#c5aca6" stroke-width="0.9" stroke-linejoin="miter"/>
<path d="M82.3 337.5H90.89999999999999" stroke="#f8f4ee" stroke-width="1.3"/>
<text x="85.2" y="346.0" font-size="9.5" text-anchor="middle" textLength="22.4" lengthAdjust="spacingAndGlyphs" fill="#000" stroke="#000" stroke-width="0.2">10.00</text>
<rect x="26.5" y="369.5" width="21" height="10" fill="#f8f4ee" stroke="#c5aca6" stroke-width="1"/>
<path d="M32.1 369.5L37.1 364.9L42.1 369.5" fill="#f8f4ee" stroke="#c5aca6" stroke-width="0.9" stroke-linejoin="miter"/>
<path d="M32.800000000000004 369.5H41.4" stroke="#f8f4ee" stroke-width="1.3"/>
<text x="36.7" y="378.0" font-size="9.5" text-anchor="middle" textLength="17.2" lengthAdjust="spacingAndGlyphs" fill="#000" stroke="#000" stroke-width="0.2">0.00</text>
<rect x="143.5" y="285.5" width="26" height="10" fill="#f8f4ee" stroke="#c5aca6" stroke-width="1"/>
<path d="M152.3 285.5L157.3 280.9L162.3 285.5" fill="#f8f4ee" stroke="#c5aca6" stroke-width="0.9" stroke-linejoin="miter"/>
<path d="M153.0 285.5H161.60000000000002" stroke="#f8f4ee" stroke-width="1.3"/>
<text x="156.2" y="294.0" font-size="9.5" text-anchor="middle" textLength="22.4" lengthAdjust="spacingAndGlyphs" fill="#000" stroke="#000" stroke-width="0.2">25.81</text>
<rect x="188.5" y="274.5" width="26" height="10" fill="#f8f4ee" stroke="#c5aca6" stroke-width="1"/>
<path d="M197.0 284.5L202.2 289.4L207.39999999999998 284.5" fill="#f8f4ee" stroke="#c5aca6" stroke-width="0.9" stroke-linejoin="miter"/>
<path d="M197.89999999999998 284.5H206.5" stroke="#f8f4ee" stroke-width="1.3"/>
<text x="201.2" y="283.0" font-size="9.5" text-anchor="middle" textLength="22.4" lengthAdjust="spacingAndGlyphs" fill="#000" stroke="#000" stroke-width="0.2">22.58</text>
<rect x="318.5" y="74.5" width="26" height="10" fill="#f8f4ee" stroke="#c5aca6" stroke-width="1"/>
<path d="M327.2 84.5L332.4 89.4L337.59999999999997 84.5" fill="#f8f4ee" stroke="#c5aca6" stroke-width="0.9" stroke-linejoin="miter"/>
<path d="M328.09999999999997 84.5H336.7" stroke="#f8f4ee" stroke-width="1.3"/>
<text x="331.2" y="83.0" font-size="9.5" text-anchor="middle" textLength="22.4" lengthAdjust="spacingAndGlyphs" fill="#000" stroke="#000" stroke-width="0.2">83.87</text>
<rect x="359.5" y="64.5" width="26" height="10" fill="#f8f4ee" stroke="#c5aca6" stroke-width="1"/>
<path d="M368.0 74.5L373.2 79.4L378.4 74.5" fill="#f8f4ee" stroke="#c5aca6" stroke-width="0.9" stroke-linejoin="miter"/>
<path d="M368.9 74.5H377.5" stroke="#f8f4ee" stroke-width="1.3"/>
<text x="372.2" y="73.0" font-size="9.5" text-anchor="middle" textLength="22.4" lengthAdjust="spacingAndGlyphs" fill="#000" stroke="#000" stroke-width="0.2">87.10</text>
<rect x="367.5" y="233.5" width="26" height="10" fill="#f8f4ee" stroke="#c5aca6" stroke-width="1"/>
<path d="M376.4 233.5L381.4 228.9L386.4 233.5" fill="#f8f4ee" stroke="#c5aca6" stroke-width="0.9" stroke-linejoin="miter"/>
<path d="M377.09999999999997 233.5H385.7" stroke="#f8f4ee" stroke-width="1.3"/>
<text x="380.2" y="242.0" font-size="9.5" text-anchor="middle" textLength="22.4" lengthAdjust="spacingAndGlyphs" fill="#000" stroke="#000" stroke-width="0.2">41.94</text>
<rect x="480.5" y="32.5" width="26" height="10" fill="#f8f4ee" stroke="#c5aca6" stroke-width="1"/>
<path d="M489.2 42.5L494.4 47.4L499.59999999999997 42.5" fill="#f8f4ee" stroke="#c5aca6" stroke-width="0.9" stroke-linejoin="miter"/>
<path d="M490.09999999999997 42.5H498.7" stroke="#f8f4ee" stroke-width="1.3"/>
<text x="493.2" y="41.0" font-size="9.5" text-anchor="middle" textLength="22.4" lengthAdjust="spacingAndGlyphs" fill="#000" stroke="#000" stroke-width="0.2">96.77</text>
<rect x="547.5" y="275.5" width="26" height="10" fill="#f8f4ee" stroke="#c5aca6" stroke-width="1"/>
<path d="M556.0 275.5L561 270.9L566.0 275.5" fill="#f8f4ee" stroke="#c5aca6" stroke-width="0.9" stroke-linejoin="miter"/>
<path d="M556.7 275.5H565.3" stroke="#f8f4ee" stroke-width="1.3"/>
<text x="560.2" y="284.0" font-size="9.5" text-anchor="middle" textLength="22.4" lengthAdjust="spacingAndGlyphs" fill="#000" stroke="#000" stroke-width="0.2">29.03</text>
<rect x="589.5" y="106.5" width="26" height="10" fill="#f8f4ee" stroke="#c5aca6" stroke-width="1"/>
<path d="M598.1999999999999 116.5L603.4 121.4L608.6 116.5" fill="#f8f4ee" stroke="#c5aca6" stroke-width="0.9" stroke-linejoin="miter"/>
<path d="M599.1 116.5H607.6999999999999" stroke="#f8f4ee" stroke-width="1.3"/>
<text x="602.2" y="115.0" font-size="9.5" text-anchor="middle" textLength="22.4" lengthAdjust="spacingAndGlyphs" fill="#000" stroke="#000" stroke-width="0.2">74.19</text>
<rect x="619.5" y="338.5" width="21" height="10" fill="#f8f4ee" stroke="#c5aca6" stroke-width="1"/>
<path d="M625.3 338.5L630.3 333.9L635.3 338.5" fill="#f8f4ee" stroke="#c5aca6" stroke-width="0.9" stroke-linejoin="miter"/>
<path d="M626.0 338.5H634.5999999999999" stroke="#f8f4ee" stroke-width="1.3"/>
<text x="629.7" y="347.0" font-size="9.5" text-anchor="middle" textLength="17.2" lengthAdjust="spacingAndGlyphs" fill="#000" stroke="#000" stroke-width="0.2">9.68</text>
<rect x="649.5" y="117.5" width="26" height="10" fill="#f8f4ee" stroke="#c5aca6" stroke-width="1"/>
<path d="M658.0999999999999 127.5L663.3 132.4L668.5 127.5" fill="#f8f4ee" stroke="#c5aca6" stroke-width="0.9" stroke-linejoin="miter"/>
<path d="M659.0 127.5H667.5999999999999" stroke="#f8f4ee" stroke-width="1.3"/>
<text x="662.2" y="126.0" font-size="9.5" text-anchor="middle" textLength="22.4" lengthAdjust="spacingAndGlyphs" fill="#000" stroke="#000" stroke-width="0.2">70.97</text>
<rect x="700.5" y="95.5" width="26" height="10" fill="#f8f4ee" stroke="#c5aca6" stroke-width="1"/>
<path d="M709.0999999999999 105.5L714.3 110.4L719.5 105.5" fill="#f8f4ee" stroke="#c5aca6" stroke-width="0.9" stroke-linejoin="miter"/>
<path d="M710.0 105.5H718.5999999999999" stroke="#f8f4ee" stroke-width="1.3"/>
<text x="713.2" y="104.0" font-size="9.5" text-anchor="middle" textLength="22.4" lengthAdjust="spacingAndGlyphs" fill="#000" stroke="#000" stroke-width="0.2">77.42</text>
<rect x="716.5" y="264.5" width="26" height="10" fill="#f8f4ee" stroke="#c5aca6" stroke-width="1"/>
<path d="M725.2 264.5L730.2 259.9L735.2 264.5" fill="#f8f4ee" stroke="#c5aca6" stroke-width="0.9" stroke-linejoin="miter"/>
<path d="M725.9000000000001 264.5H734.5" stroke="#f8f4ee" stroke-width="1.3"/>
<text x="729.2" y="273.0" font-size="9.5" text-anchor="middle" textLength="22.4" lengthAdjust="spacingAndGlyphs" fill="#000" stroke="#000" stroke-width="0.2">32.26</text>
<rect x="775.5" y="148.5" width="26" height="10" fill="#f8f4ee" stroke="#c5aca6" stroke-width="1"/>
<path d="M784.1999999999999 158.5L789.4 163.4L794.6 158.5" fill="#f8f4ee" stroke="#c5aca6" stroke-width="0.9" stroke-linejoin="miter"/>
<path d="M785.1 158.5H793.6999999999999" stroke="#f8f4ee" stroke-width="1.3"/>
<text x="788.2" y="157.0" font-size="9.5" text-anchor="middle" textLength="22.4" lengthAdjust="spacingAndGlyphs" fill="#000" stroke="#000" stroke-width="0.2">61.29</text>
<rect x="805.5" y="232.5" width="26" height="10" fill="#f8f4ee" stroke="#c5aca6" stroke-width="1"/>
<path d="M814.0999999999999 242.5L819.3 247.4L824.5 242.5" fill="#f8f4ee" stroke="#c5aca6" stroke-width="0.9" stroke-linejoin="miter"/>
<path d="M815.0 242.5H823.5999999999999" stroke="#f8f4ee" stroke-width="1.3"/>
<text x="818.2" y="241.0" font-size="9.5" text-anchor="middle" textLength="22.4" lengthAdjust="spacingAndGlyphs" fill="#000" stroke="#000" stroke-width="0.2">35.48</text>
<rect x="799.5" y="306.5" width="26" height="10" fill="#f8f4ee" stroke="#c5aca6" stroke-width="1"/>
<path d="M808.1 306.5L813.1 301.9L818.1 306.5" fill="#f8f4ee" stroke="#c5aca6" stroke-width="0.9" stroke-linejoin="miter"/>
<path d="M808.8000000000001 306.5H817.4" stroke="#f8f4ee" stroke-width="1.3"/>
<text x="812.2" y="315.0" font-size="9.5" text-anchor="middle" textLength="22.4" lengthAdjust="spacingAndGlyphs" fill="#000" stroke="#000" stroke-width="0.2">19.35</text>
<text transform="translate(871.5,365.9) scale(1.12,1)" font-size="9.4" text-anchor="end" fill="#000">0</text>
<text transform="translate(871.5,349.9) scale(1.12,1)" font-size="9.4" text-anchor="end" fill="#000">5</text>
<text transform="translate(871.5,333.9) scale(1.12,1)" font-size="9.4" text-anchor="end" fill="#000">10</text>
<text transform="translate(871.5,317.9) scale(1.12,1)" font-size="9.4" text-anchor="end" fill="#000">15</text>
<text transform="translate(871.5,300.9) scale(1.12,1)" font-size="9.4" text-anchor="end" fill="#000">20</text>
<text transform="translate(871.5,284.9) scale(1.12,1)" font-size="9.4" text-anchor="end" fill="#000">25</text>
<text transform="translate(871.5,268.9) scale(1.12,1)" font-size="9.4" text-anchor="end" fill="#000">30</text>
<text transform="translate(871.5,252.9) scale(1.12,1)" font-size="9.4" text-anchor="end" fill="#000">35</text>
<text transform="translate(871.5,235.9) scale(1.12,1)" font-size="9.4" text-anchor="end" fill="#000">40</text>
<text transform="translate(871.5,219.9) scale(1.12,1)" font-size="9.4" text-anchor="end" fill="#000">45</text>
<text transform="translate(871.5,203.9) scale(1.12,1)" font-size="9.4" text-anchor="end" fill="#000">50</text>
<text transform="translate(871.5,186.9) scale(1.12,1)" font-size="9.4" text-anchor="end" fill="#000">55</text>
<text transform="translate(871.5,170.9) scale(1.12,1)" font-size="9.4" text-anchor="end" fill="#000">60</text>
<text transform="translate(871.5,154.9) scale(1.12,1)" font-size="9.4" text-anchor="end" fill="#000">65</text>
<text transform="translate(871.5,138.9) scale(1.12,1)" font-size="9.4" text-anchor="end" fill="#000">70</text>
<text transform="translate(871.5,121.9) scale(1.12,1)" font-size="9.4" text-anchor="end" fill="#000">75</text>
<text transform="translate(871.5,105.9) scale(1.12,1)" font-size="9.4" text-anchor="end" fill="#000">80</text>
<text transform="translate(871.5,89.9) scale(1.12,1)" font-size="9.4" text-anchor="end" fill="#000">85</text>
<text transform="translate(871.5,73.9) scale(1.12,1)" font-size="9.4" text-anchor="end" fill="#000">90</text>
<text transform="translate(871.5,56.9) scale(1.12,1)" font-size="9.4" text-anchor="end" fill="#000">95</text>
<text transform="translate(871.5,40.9) scale(1.12,1)" font-size="9.4" text-anchor="end" fill="#000">100</text>
<text transform="translate(871.5,511.9) scale(1.12,1)" font-size="9.4" text-anchor="end" fill="#000">70</text>
<text transform="translate(871.5,494.9) scale(1.12,1)" font-size="9.4" text-anchor="end" fill="#000">75</text>
<text transform="translate(871.5,476.9) scale(1.12,1)" font-size="9.4" text-anchor="end" fill="#000">80</text>
<text transform="translate(871.5,458.9) scale(1.12,1)" font-size="9.4" text-anchor="end" fill="#000">85</text>
<text transform="translate(871.5,440.9) scale(1.12,1)" font-size="9.4" text-anchor="end" fill="#000">90</text>
<text transform="translate(871.5,422.9) scale(1.12,1)" font-size="9.4" text-anchor="end" fill="#000">95</text>
<text transform="translate(871.5,404.9) scale(1.12,1)" font-size="9.4" text-anchor="end" fill="#000">100</text>
<text transform="translate(19.5,392.7) scale(0.93,1)" font-size="10" text-anchor="middle" fill="#000">M</text>
<text transform="translate(19.5,529.7) scale(0.93,1)" font-size="10" text-anchor="middle" fill="#000">M</text>
<text transform="translate(46.5,392.7) scale(0.93,1)" font-size="10" text-anchor="middle" fill="#000">A</text>
<text transform="translate(46.5,529.7) scale(0.93,1)" font-size="10" text-anchor="middle" fill="#000">A</text>
<text transform="translate(68.5,392.7) scale(0.93,1)" font-size="10" text-anchor="middle" fill="#000">M</text>
<text transform="translate(68.5,529.7) scale(0.93,1)" font-size="10" text-anchor="middle" fill="#000">M</text>
<text transform="translate(93.5,392.7) scale(0.93,1)" font-size="10" text-anchor="middle" fill="#000">J</text>
<text transform="translate(93.5,529.7) scale(0.93,1)" font-size="10" text-anchor="middle" fill="#000">J</text>
<text transform="translate(118.5,392.7) scale(0.93,1)" font-size="10" text-anchor="middle" fill="#000">J</text>
<text transform="translate(118.5,529.7) scale(0.93,1)" font-size="10" text-anchor="middle" fill="#000">J</text>
<text transform="translate(141.5,392.7) scale(0.93,1)" font-size="10" text-anchor="middle" fill="#000">A</text>
<text transform="translate(141.5,529.7) scale(0.93,1)" font-size="10" text-anchor="middle" fill="#000">A</text>
<text transform="translate(168.5,392.7) scale(0.93,1)" font-size="10" text-anchor="middle" fill="#000">S</text>
<text transform="translate(168.5,529.7) scale(0.93,1)" font-size="10" text-anchor="middle" fill="#000">S</text>
<text transform="translate(191.5,392.7) scale(0.93,1)" font-size="10" text-anchor="middle" fill="#000">O</text>
<text transform="translate(191.5,529.7) scale(0.93,1)" font-size="10" text-anchor="middle" fill="#000">O</text>
<text transform="translate(216.5,392.7) scale(0.93,1)" font-size="10" text-anchor="middle" fill="#000">N</text>
<text transform="translate(216.5,529.7) scale(0.93,1)" font-size="10" text-anchor="middle" fill="#000">N</text>
<text transform="translate(241.5,392.7) scale(0.93,1)" font-size="10" text-anchor="middle" fill="#000">D</text>
<text transform="translate(241.5,529.7) scale(0.93,1)" font-size="10" text-anchor="middle" fill="#000">D</text>
<text transform="translate(263.0,392.7) scale(1.1,1)" font-size="10.4" text-anchor="middle" font-weight="bold" fill="#000">24</text>
<text transform="translate(263.0,529.7) scale(1.1,1)" font-size="10.4" text-anchor="middle" font-weight="bold" fill="#000">24</text>
<text transform="translate(288.5,392.7) scale(0.93,1)" font-size="10" text-anchor="middle" fill="#000">F</text>
<text transform="translate(288.5,529.7) scale(0.93,1)" font-size="10" text-anchor="middle" fill="#000">F</text>
<text transform="translate(311.5,392.7) scale(0.93,1)" font-size="10" text-anchor="middle" fill="#000">M</text>
<text transform="translate(311.5,529.7) scale(0.93,1)" font-size="10" text-anchor="middle" fill="#000">M</text>
<text transform="translate(335.5,392.7) scale(0.93,1)" font-size="10" text-anchor="middle" fill="#000">A</text>
<text transform="translate(335.5,529.7) scale(0.93,1)" font-size="10" text-anchor="middle" fill="#000">A</text>
<text transform="translate(360.5,392.7) scale(0.93,1)" font-size="10" text-anchor="middle" fill="#000">M</text>
<text transform="translate(360.5,529.7) scale(0.93,1)" font-size="10" text-anchor="middle" fill="#000">M</text>
<text transform="translate(386.5,392.7) scale(0.93,1)" font-size="10" text-anchor="middle" fill="#000">J</text>
<text transform="translate(386.5,529.7) scale(0.93,1)" font-size="10" text-anchor="middle" fill="#000">J</text>
<text transform="translate(408.5,392.7) scale(0.93,1)" font-size="10" text-anchor="middle" fill="#000">J</text>
<text transform="translate(408.5,529.7) scale(0.93,1)" font-size="10" text-anchor="middle" fill="#000">J</text>
<text transform="translate(434.5,392.7) scale(0.93,1)" font-size="10" text-anchor="middle" fill="#000">A</text>
<text transform="translate(434.5,529.7) scale(0.93,1)" font-size="10" text-anchor="middle" fill="#000">A</text>
<text transform="translate(459.5,392.7) scale(0.93,1)" font-size="10" text-anchor="middle" fill="#000">S</text>
<text transform="translate(459.5,529.7) scale(0.93,1)" font-size="10" text-anchor="middle" fill="#000">S</text>
<text transform="translate(482.5,392.7) scale(0.93,1)" font-size="10" text-anchor="middle" fill="#000">O</text>
<text transform="translate(482.5,529.7) scale(0.93,1)" font-size="10" text-anchor="middle" fill="#000">O</text>
<text transform="translate(509.5,392.7) scale(0.93,1)" font-size="10" text-anchor="middle" fill="#000">N</text>
<text transform="translate(509.5,529.7) scale(0.93,1)" font-size="10" text-anchor="middle" fill="#000">N</text>
<text transform="translate(532.5,392.7) scale(0.93,1)" font-size="10" text-anchor="middle" fill="#000">D</text>
<text transform="translate(532.5,529.7) scale(0.93,1)" font-size="10" text-anchor="middle" fill="#000">D</text>
<text transform="translate(555.0,392.7) scale(1.1,1)" font-size="10.4" text-anchor="middle" font-weight="bold" fill="#000">25</text>
<text transform="translate(555.0,529.7) scale(1.1,1)" font-size="10.4" text-anchor="middle" font-weight="bold" fill="#000">25</text>
<text transform="translate(579.5,392.7) scale(0.93,1)" font-size="10" text-anchor="middle" fill="#000">F</text>
<text transform="translate(579.5,529.7) scale(0.93,1)" font-size="10" text-anchor="middle" fill="#000">F</text>
<text transform="translate(601.5,392.7) scale(0.93,1)" font-size="10" text-anchor="middle" fill="#000">M</text>
<text transform="translate(601.5,529.7) scale(0.93,1)" font-size="10" text-anchor="middle" fill="#000">M</text>
<text transform="translate(626.5,392.7) scale(0.93,1)" font-size="10" text-anchor="middle" fill="#000">A</text>
<text transform="translate(626.5,529.7) scale(0.93,1)" font-size="10" text-anchor="middle" fill="#000">A</text>
<text transform="translate(650.5,392.7) scale(0.93,1)" font-size="10" text-anchor="middle" fill="#000">M</text>
<text transform="translate(650.5,529.7) scale(0.93,1)" font-size="10" text-anchor="middle" fill="#000">M</text>
<text transform="translate(674.5,392.7) scale(0.93,1)" font-size="10" text-anchor="middle" fill="#000">J</text>
<text transform="translate(674.5,529.7) scale(0.93,1)" font-size="10" text-anchor="middle" fill="#000">J</text>
<text transform="translate(698.5,392.7) scale(0.93,1)" font-size="10" text-anchor="middle" fill="#000">J</text>
<text transform="translate(698.5,529.7) scale(0.93,1)" font-size="10" text-anchor="middle" fill="#000">J</text>
<text transform="translate(723.5,392.7) scale(0.93,1)" font-size="10" text-anchor="middle" fill="#000">A</text>
<text transform="translate(723.5,529.7) scale(0.93,1)" font-size="10" text-anchor="middle" fill="#000">A</text>
<text transform="translate(747.5,392.7) scale(0.93,1)" font-size="10" text-anchor="middle" fill="#000">S</text>
<text transform="translate(747.5,529.7) scale(0.93,1)" font-size="10" text-anchor="middle" fill="#000">S</text>
<text transform="translate(772.5,392.7) scale(0.93,1)" font-size="10" text-anchor="middle" fill="#000">O</text>
<text transform="translate(772.5,529.7) scale(0.93,1)" font-size="10" text-anchor="middle" fill="#000">O</text>
<text transform="translate(798.5,392.7) scale(0.93,1)" font-size="10" text-anchor="middle" fill="#000">N</text>
<text transform="translate(798.5,529.7) scale(0.93,1)" font-size="10" text-anchor="middle" fill="#000">N</text>
<text transform="translate(820.5,392.7) scale(0.93,1)" font-size="10" text-anchor="middle" fill="#000">D</text>
<text transform="translate(820.5,529.7) scale(0.93,1)" font-size="10" text-anchor="middle" fill="#000">D</text>
<text transform="translate(845.0,392.7) scale(1.1,1)" font-size="10.4" text-anchor="middle" font-weight="bold" fill="#000">26</text>
<text transform="translate(845.0,529.7) scale(1.1,1)" font-size="10.4" text-anchor="middle" font-weight="bold" fill="#000">26</text>
<path d="M18 533.5h1M45 533.5h1M67 533.5h1M92 533.5h1M117 533.5h1M140 533.5h1M167 533.5h1M190 533.5h1M215 533.5h1M240 533.5h1M263 533.5h1M287 533.5h1M310 533.5h1M334 533.5h1M359 533.5h1M385 533.5h1M407 533.5h1M433 533.5h1M458 533.5h1M481 533.5h1M508 533.5h1M531 533.5h1M555 533.5h1M578 533.5h1M600 533.5h1M625 533.5h1M649 533.5h1M673 533.5h1M697 533.5h1M722 533.5h1M746 533.5h1M771 533.5h1M797 533.5h1M819 533.5h1M845 533.5h1" stroke="#ddd" stroke-width="1" shape-rendering="crispEdges"/>
<text x="4.2" y="14.5" font-size="14.4" font-weight="bold" textLength="75.8" lengthAdjust="spacingAndGlyphs">!GT200XLRE</text>
<text x="84.8" y="14.0" font-size="11.6" textLength="187.4" lengthAdjust="spacingAndGlyphs">SP Real Estate Stocks Above 200-EMA</text>
<text x="277.4" y="14.0" font-size="8.8" textLength="23.4" lengthAdjust="spacingAndGlyphs">INDX</text>
<text x="3.9" y="26.8" font-size="10.6" textLength="52" lengthAdjust="spacingAndGlyphs">2-Jan-2026</text>
<text x="761" y="13.4" font-size="8.6" fill="#444" stroke="#444" stroke-width="0.3">©</text>
<text x="770.6" y="13.8" font-size="10.6" fill="#444" stroke="#444" stroke-width="0.25" textLength="79.6" lengthAdjust="spacingAndGlyphs">StockCharts.com</text>
<text x="490" y="27.1" font-size="11" font-weight="bold" textLength="27.6" lengthAdjust="spacingAndGlyphs">Open</text>
<text x="521.9" y="27.1" font-size="11" textLength="26.3" lengthAdjust="spacingAndGlyphs">29.03</text>
<text x="554.5" y="27.1" font-size="11" font-weight="bold" textLength="23.8" lengthAdjust="spacingAndGlyphs">High</text>
<text x="582.1" y="27.1" font-size="11" textLength="26.3" lengthAdjust="spacingAndGlyphs">29.03</text>
<text x="614.7" y="27.1" font-size="11" font-weight="bold" textLength="22.8" lengthAdjust="spacingAndGlyphs">Low</text>
<text x="641.8" y="27.1" font-size="11" textLength="26.3" lengthAdjust="spacingAndGlyphs">29.03</text>
<text x="675" y="27.1" font-size="11" font-weight="bold" textLength="31.2" lengthAdjust="spacingAndGlyphs">Close</text>
<text x="709.8" y="27.1" font-size="11" textLength="26.4" lengthAdjust="spacingAndGlyphs">29.03</text>
<text x="742.8" y="27.1" font-size="11" font-weight="bold" textLength="21.6" lengthAdjust="spacingAndGlyphs">Chg</text>
<text x="767.7" y="27.1" font-size="11" textLength="72.6" lengthAdjust="spacingAndGlyphs">+0.00 (+0.00%)</text>
<rect x="843.4" y="22.6" width="6.8" height="2.2" fill="#000"/>
<rect x="7" y="35" width="9" height="2.4" fill="#000"/>
<text x="20.6" y="40.1" font-size="10.5" textLength="141.2" lengthAdjust="spacing">!GT200XLRE (Daily) 29.03</text>
<g fill="#55565e"><rect x="7" y="45" width="2" height="5"/><rect x="9" y="49" width="1" height="1"/><rect x="10" y="42" width="3" height="8"/><rect x="13" y="49" width="1" height="1"/><rect x="14" y="44" width="2" height="6"/></g>
<rect x="11" y="43.4" width="1" height="5.6" fill="#a8946f"/><rect x="8" y="46" width="0.8" height="3" fill="#8f8068"/><rect x="15" y="45" width="0.6" height="4" fill="#8f8068"/>
<text x="17.7" y="49.9" font-size="10.2" fill="#50505a" textLength="62.6" lengthAdjust="spacing">Volume undef</text>
<rect x="7" y="402" width="8.8" height="2.2" fill="#000"/>
<text x="20.2" y="407.2" font-size="10.5" textLength="54.2" lengthAdjust="spacing">IYR 93.99</text>
</svg></body></html>
